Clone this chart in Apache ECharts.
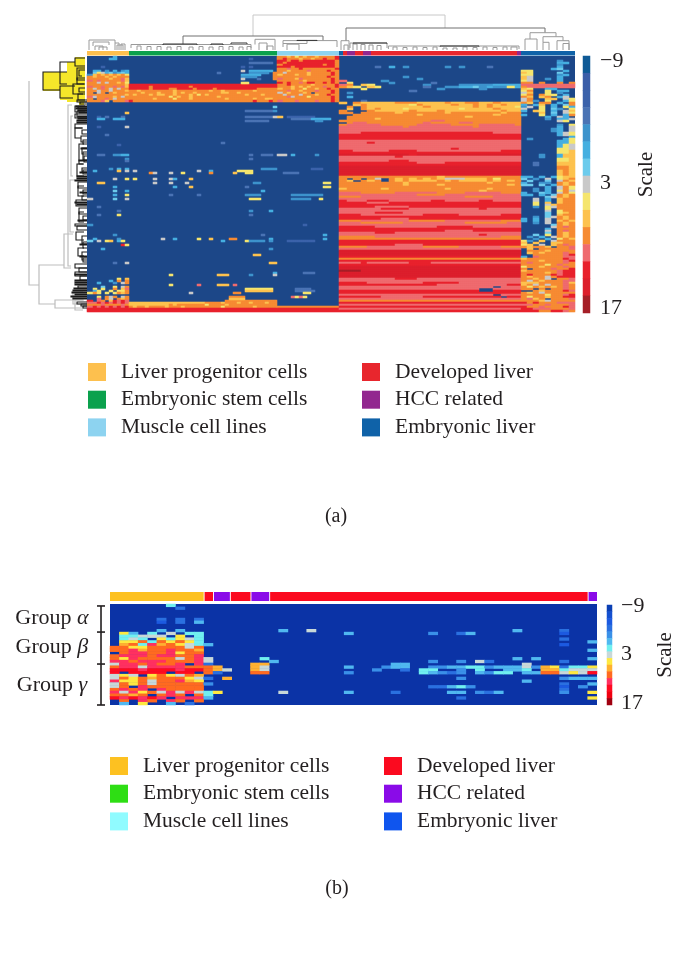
<!DOCTYPE html>
<html><head><meta charset="utf-8">
<style>html,body{margin:0;padding:0;background:#fff}#c{width:680px;height:960px}</style>
<script src="https://cdn.jsdelivr.net/npm/echarts@6/dist/echarts.min.js"></script>
</head><body><div id="c"></div>
<script>
const tickLabels = {0:'{t|\u22129}',7:'{m|3}',14:'{b|17}'};
const legendLeft = ['Liver progenitor cells','Embryonic stem cells','Muscle cell lines'];
const legendRight = ['Developed liver','HCC related','Embryonic liver'];
const colorsA = ['#fdc04e','#0ba14d','#8dd3f0','#e8262d','#92278f','#0f62a8'];
const colorsB = ['#fdc121','#2ede14','#90fbff','#fb0a1f','#8a0be8','#0f55ee'];
const paletteA = ['#0f5a96','#3b5ea8','#3b62aa','#4a73b4','#3d93cc','#45afe0','#6ccbec','#c9c9c9','#f5e56e','#fdc24f','#f68b33','#ef6b6f','#e8212c','#dc1f2c','#a51f27'];
const paletteB = ['#0a3fb4','#1450d0','#1c5ae0','#2a70e0','#3a90e8','#50b8f0','#70f0f0','#c8d8d8','#ffe840','#ffb030','#ff6a20','#ff3060','#ff0a20','#f00010','#a00010'];
const bgA = '#1c4788', bgB = '#0b33a6';

// Sample groups [first sample, last sample, group index]
const annotA = [[0,21,0],[21,95,1],[95,126,2],[126,128,5],[128,130,3],[130,134,4],[134,138,3],[138,142,4],[142,215,3],[215,217,4],[217,244,5]];
const annotB = [[0,10,0],[10.1,11,3],[11.1,12.8,4],[12.9,15,3],[15.1,17,4],[17.1,51,3],[51.1,52,4]];
const blocksA = [21,74,31,91,27];
const blockCharsA = [10,37,15,26,9];

// Panel (a), readings per row; '.' = lowest (background). Left blocks: [row, progenitor, muscle]
const leftA = [
[0,"......5","aa9a8a9aa9aaaac"],[1,".....55","acaaa9aa9aacaac"],[2,"","ccaccacccccccca"],[3,"","cacccccccccccca"],[4,"","accccccccccacca"],[5,"...2","cccacccccccccca"],
[6,"","aabaacaaaaaaaac"],[7,".55.4.5.45","aa9aaaabaaaacaa"],[8,".6875645655","a7aaaaa9aaaaaca"],[9,"49a9a9a9a8","9aaa9aa9aaaaaca"],[10,"a9aa9a9aaa","aaaaaaaaaaaacaa"],[11,"aaaaa9aab9","baaa9baaaaaaaca"],
[12,"babaaaaab9","aaaaaa9aaaaaaca"],[13,"aa7a7aa9a8","cacaabaccaacaca"],[14,"aaaaaaaaa9","aacaaaaa9aaaaac"],[15,"baabaabab9","aaa9a9a9aaabaac"],[16,"a7aba7a7aa","9aa9aa8aa9aacaa"],[17,"aa7aa7aaa9","aabaa9aaabaaaca"],
[18,"a.7a.a9aaa","7a9aaa9a.aaaaca"],[19,"aaaaaaaaa9","a7aaa7aaa9aacaa"],[20,"b7aaaa9a7a","aab7aaa8aaaaaca"],[21,"a.aaba7aaa","aaaaaaaaaaaaaca"],[22,"aaab9.aaab","baaabaaaabaaaca"],
[28,".........9",""],[30,"..2.3...3","9.2222222"],[31,"..55..555.","...3333355555"],[32,"",".........44"],[35,"..2......7",""],[39,"....3",""],[44,".......2",""],
[49,"..33..4455","77.5.....4"],[51,".........4",""],[52,".........3",""],[56,".....4.5.5","........222"],[57,".5.....9.7",""],[58,"",".3333"],[61,"......7..8",""],[63,"..99","...........88"],[65,"......5","...........88"],
[67,"......6..5",""],[69,"......5..8","...44444444"],[71,"7.....6..7","...44444..8"],[75,"..3",""],[77,".......3",""],[79,"..3....8",""],[84,"4","......2"],[89,"......4","...........5"],[91,".5.....4","...........5"],
[92,"6.7.89.58","..2222222"],[94,"........c8",""],[96,"...5",""],[103,"......3..7",""],[108,"","......333"],[111,".......8.9",""],[112,".....5.a.a",""],[113,"..5...4.7a",""],[115,"...6..8.7a",""],
[116,".8.8..a.9b","....3333"],[117,".58..8.88a","....33333"],[118,"8a8.8.8a9a","......88"],[120,"..8.a7a.7a","...b8b8"],[121,"..b.a7.a9a",""],[122,"c.ba.9cbcb",""],[123,"bbcbcbcbcb",""],[124,"aaabaaaaba",""],
[125,"bcbcbcbcbc","aaaaaaaaaaaaaaa"],[126,"cccccccccc","ccccccccccccccc"],[127,"cccccccccc","ccccccccccccccc"]];
// Stem-cell block: whole-row strings [row, cells] and sparse dashes [row, first cell, cells, level]
const bandE = [
[14,"ccccccccccccccccccccccccccccccccccccc"],[15,"cccccacccccccccaccccccccccccccccccccc"],[16,"cccccaccccaaccccaccccaccccccccccaaaaa"],[17,"aa9aaaaaaaa9aaaaaaaa9aa9aaaaaaa9aaaaa"],
[18,"aaa9aaa9aaa9a9aa9aaaaaa99aa9aaaaaaaaa"],[19,"a9aaa9a99aa9aaa9a8a9aaaaaaaaa9aaa9aaa"],[20,"aaaaaaaaaa8a9aa9aaaaaa9aaaaaaaaaaaaaa"],[21,"aaaaaa9aaaa8aaa9aaaaaaaa9aaaaaa9aa99a"],[22,"caaaaaaaaaaaaaaaaaaaaaaaaaaaaaacaaaca"],
[122,"........................aaaaaaaaaaaaa"],[123,"9999999999999999999aaaa9aaa9aa9aaa9aa"],[124,"9999999999a9aaaaaaa8aaaa9aaaaaaaaaaaa"],[125,"a9aa9aaaa9aaa9aaaaaaaaa8aaaaaaa9aaaaa"],[126,"ccccccccccccccccccccccccccccccccccccc"],[127,"ccccccccccccccccccccccccccccccccccccc"]];
const specksE = [
[1,30,1,2],[3,30,6,3],[5,28,1,2],[5,30,1,2],[7,28,1,7],[7,30,6,5],[8,22,1,3],[8,30,5,4],[8,36,1,10],[9,28,5,5],[9,36,1,10],[10,28,4,4],[10,36,1,10],[11,28,1,7],[11,32,1,3],[11,36,1,10],[13,28,2,8],
[25,36,1,6],[27,29,7,3],[27,36,1,4],[30,29,7,3],[30,36,1,7],[32,29,6,3],[43,23,1,3],[49,30,1,3],[49,33,3,3],[51,30,1,3],[56,33,4,4],
[57,1,1,7],[57,17,1,7],[57,20,1,5],[57,27,4,8],[58,5,1,10],[58,6,1,7],[58,10,1,7],[58,13,1,8],[58,20,1,10],[58,26,1,9],[58,29,2,8],
[61,1,1,8],[61,6,1,7],[61,10,1,7],[61,11,1,5],[61,15,1,9],[63,6,1,7],[63,10,1,7],[63,14,1,7],[63,31,2,4],[65,11,1,5],[65,15,1,9],[65,29,1,3],[67,33,1,5],[69,10,1,3],[69,17,1,3],[69,29,4,4],[71,30,3,8],
[77,30,1,4],[77,35,1,5],[79,30,1,3],[89,33,1,3],[91,8,1,7],[91,11,1,5],[91,17,1,8],[91,20,1,9],[91,25,2,10],[91,35,1,5],[92,23,1,5],[92,29,1,8],[92,30,4,4],[92,35,1,4],[96,35,1,4],[99,31,2,9],
[103,35,2,9],[108,36,1,5],[109,10,1,8],[109,22,3,9],[109,30,1,4],[109,36,1,7],[114,10,1,8],[114,17,1,11],[114,22,3,9],[114,26,1,11],[116,29,7,8],[117,29,7,9],[118,15,1,7],[118,26,2,10],[120,25,4,10],[121,25,4,9]];
// Developed and embryonic liver blocks, all 128 rows: developed|embryonic
const rowsD = [
"|","|","|......4","|......55","|......4",".....3.5.4.....4.4...3|......5","|.....56","|88.....5",
"|98....6","|88....45",".........4|97....5","...........4|97..4.5","b.....4|87....5",".8.....4.....3|aa.a..a.a","ba.98.......4....444445555|bbbbbbbbb","a98.98......3..44556454485|abbbbbbbb",
"...8..........4.....4|98..55..","..........3|8a..8.55",".4|79..8.4","|8a.a88.5",".5|a9.9a.57","|7a..99.78","...3|7a4.8..58","9.a99999aaa9999a99aa99a999|a9.aa.5.a",
"..9a9999998a9999a99a9a9a99|5.59.5.6a",".a.a99999999a999999a9a9998|47.8.5.85",".9.a9a9998999999989999a999|7..8.64.8","a...a99999a999a99999999a99|5.98.5.79","aa.aaaaa9aaaaaa9aaaaaaa9aa|...9.6.78","..aaaaaaaaa9aaaaaaaaaa9aaa|5..8.5.5a",".aaaaaaaaaaaaaaaaa9aaaaaaa|....5.75.",".aaaa9aaaaaaaaaaaaaaaaaaaa|....4.557",
"aaaaaaaaaaaaabbaaaaaaaaaaa|......78",".abbaaaaaaaabaaaabbaaaaaaa|.....","abbbbbaaaaabbbbbaaaabbbbba|......4.8","bbbbbbbbbabbbbbbbbbabbbbbb|......5.7","bbbbbbbbbbbbbbbbbbbbbbbbbb|.....45.7","bbbbbbbbbbbbbbbbbbbbbbbbbb|.....45.7","bbbcccccccccccccccccccbbbb|......578","cccccccccccccccccccccccccc|......578",
"cccccccccccccccccccccccccc|........5","cccccccccccccccccccccccccc|.4.....58","bbbbbbbbbbbbbbbbbbbbbbbbbb|......558","bbbbcbbbbbbbbbbbbbbbbbbbbb|......558","bbbbbbbbbbbbbbbbbbbbbbbbbb|......587","bbbbbbbbbbbbbbbbbbbbbbbbbb|......587","bbbbbbbbbbbbbbbbcbbbbbbbbb|......887","ccbbbbbccccbbbbbbbbbbbbccc|......889",
"cccccccccccccccccccccccccc|......889","ddddddddddcddddddddddddddd|...4..599","bbbbbbbbcbbbbbbbbbbbbbbbbb|...4..599","bbbbbbbbbbbbbbbbbbbbbbbbbb|......889","bbbbbbbcccbbbbbbbbbbbbbbbb|......889","cccccccccccbbbbccccccccccc|..3...999","cccccccccccccccccccccccccc|..3...999","dddddddddddddddddddddddddd|......aa9",
"dddddddddddddddddddddddddd|......aa9","dddddddddddddddddddddddddd|......9a9","dddddddddddddddddddddddddd|......9a9","dddddddddddddddddddddddddd|......9a9",
"aaaaaaaaaaaaaa9aaaaaaaaaaa|55.5.5899","a.a.a7.a9a9a9a9777999a8aaa|6.4.7.89a","a9.a9a.a9a9999a9a9999a9a9a|.6..6.7a9","aaaaaaaaa9aaaaaaaaaaa9aaaa|5..44.a9a",
"aaaaaaaaa9aaaa9aaaaaaaaa9a|66.6.5a9a","aaaaaaaaaaaaaaaaaaaaaaaaaa|....5.7a8","9aaaaa9aaaaaaaa9aaaaa9aaaa|..4.5.7a8","aaaaaaaaaaaaaaaaaaaa9aaaaa|..4.5.8a7",
"bbbaaaaabbbbbbaaaabbbbbaaa|5..65.7a8","bbbbbbbbbbbaaaabbbbbbbbbbb|55.5.6a9a","aaabbbbbbbbbbbbbbbaaaabbbb|....67a9a","bbbbbbbbbbbbbbbbbbbbbbbbbb|..7.5.9aa",
"cbbbcccbbbbbbccbbbbbccbbbb|..7.5.9aa","ccccbbbccccccccccccccccccc|..8.9.9aa","cccccccccccccccccccccccccc|..8.79aaa","cccccbbbbbcccccccccccccccc|..4.87aaa",
"bbbbbbccccbbbbbbbbbbcbbbbb|....8.aaa","bbbbbbbbbbbbbbbbbbbbbbbbbb|....7.8aa","bbbbbccccbbbbbbbbbbbbbbbbb|....6.89a","cccbbbbbbbbbcccccbbbbbbccc|....6.9aa",
"cccccccccccccccccccccccccc|..4.67a9a","ccccccbbbbcccccccccccccccc|5.5.7.a9a","aaabbbbbbbaaaaabbbbbbbbaaa|5.5.7.9a9","bbbaaaaaabbbbbbbbbaaaaaabb|..4.7.a9a","bbbbbbbbbbbbbbbbbbbbbbbbbb|.....6a9a","cccccbbbbbbbbbcccccbbbbbbb|.....7aba",
"cccccccccccccccccccccccccc|....5.aaa","cccccccccccccccbbbbccccccc|....7.aba","bbbbbcccbbbbbbbbbbbbbbbbbb|....6.a9a","bbbbbbbbbbbbbbbbbbbbcbbbbb|..6.8.a9a","aaaaabbbbbbbbbbbbbbbbbbaaa|.4.5.7a9a","aaaaaaaaaaaaaaaaaaaaaaaaaa|..4.5.8a9",
"cccccccccccccccccccccccccc|84.9.7aaa","cccccccccccccccccccccccccc|9.9..99aa","ccccccccbbbbcccccccccccccc|89.7.9aba","aaaabbbbbbbbaaaaabbbbbbaaa|a9aa9.aab","bbbbbbbbbbbbbbbbbbbbbbbbbb|.9.aaaaab",
"dddddddddddddddddddddddddd|.aaa9aaaa","dddddddddddddddddddddddddd|.9a9aaaba","dddddddddddddddddddddddddd|..aaaaabc","cccccccccccccccccccccccccc|5.baaaabb",
"aaaaaaaaaaaaaaaaaaaaaaaaaa|9aaaaaacb","cccccccccccccccccccccccccc|aaa9aaabc","bbbcbbbbbbcccbbbbbbbbbbbbb|abaaaaaba","cccccccccccccccccccccccccc|aaaa8abaa","dddddddddddddddddddddddddd|8aa9aaaba","dddddddddddddddddddddddddd|a.aaabaac","eeeddddddddddddddddddddddd|9aaaaabcc",
"dddddddddddddddddddddddddd|aaaa9abcc","dddddddddddddddddddddddddd|acaaacbcc","dddddddddddddddddddddddddd|a9aa7accc","bbbbbbbbcccbbbbbbbbbbbbbbb|aa9a7.aab","bbbbbbbbbbbbbbbbbbbbbbbbbb|a7a9aaabb","ccccbbbbbbbbcccccbbbbbbbbb|999aaaab9",
"ccccccccccccccbbbbbbbbbbcc|9a7a7aaba","bbbbbbbbbbbbbbbbbbbbbb.bbb|a8a9a9aba","bbbbbbbbbbbbbbbbbbbb..bbbb|aa.a.aaba","cccccccccccccccccccc..cccc|..a9aaacb","cccccccccccccccccccccccccc|a9a7aaaaa","bbbbbbbbbbbbbbbbbbbbbb.bbb|aaaa8aabc",
"ccccccbbbbbbccccccccccc.cc|a8aa9aacc","bbbbbbbbbbbbbbbbbbbbbbbbbb|ab9a.aaab","aaaaaaaaaaaaaaaaaaaaaaaaaa|aaa97aaaa","cccccccccccccccccccccccccc|cacaaabbb","bbbbbbbbbbbbbbbbbbbbbbbbbb|bbaabaaab",
"cccccccccccccccccccccccccc|caabaaacb","bbbbbbbbbbbbbbbbbbbbbbbbbb|ccbbbaaab","cccccccccccccccccccccccccc|cccaaccba","bbbbbbbbbbbbbbbbbbbbbbbbbb|aaabaaaab","cccccccccccccccccccccccccc|ccbbbaaab"];

// Panel (b): 36 rows, 52 samples; first block cells, then sparse [row, sample, level] readings
const rowsB = ["......6...",".......3..","","","",".....3.3.3",".....2.3.5","","",".....5.5..",
".85.6.7.66",".66777.8.6",".676.86876",".88a6a8a86",".9a6b9a876","aa88aaaa7a","aab9aabaa9",".abbaab8aa","abbbabbaab","a8baaaa7ab",
"bbabbbaaab","7bbabaab.b","abb7bbbbaa","cccbcccbcc","c.cccc.cc.","787.8a87a9","7a8a9aaa87","b88a7aab98","7a8a7aaaaa","7a.baaaaaa",
"abab.baaaa","b7b8a7b7b7","aa9a.aba.a","cbcbcb.bbb",".a.ba.ba.a",".5.8..5.3."];
const streaksB = [
[9,18,5],[9,21,7],[9,43,5],[9,48,3],[10,25,5],[10,34,4],[10,37,3],[10,38,5],[10,48,2],[12,48,3],[13,51,5],[14,48,2],[14,10,5],[16,51,5],
[19,43,5],[19,45,5],[19,51,5],[19,10,7],[19,16,6],[20,34,4],[20,37,4],[20,39,7],[20,40,3],[20,48,3],[20,10,7],[20,17,5],
[21,10,3],[21,15,9],[21,16,9],[21,30,5],[21,31,5],[21,44,7],
[22,10,10],[22,11,9],[22,15,9],[22,16,7],[22,25,5],[22,29,4],[22,30,5],[22,31,5],[22,34,4],[22,35,4],[22,36,5],[22,37,5],[22,38,6],[22,39,6],[22,40,4],[22,41,5],[22,42,5],[22,43,5],[22,44,7],[22,45,4],[22,46,9],[22,47,8],[22,48,3],[22,49,6],[22,50,6],[22,51,8],
[23,10,10],[23,11,9],[23,12,7],[23,15,9],[23,16,7],[23,28,4],[23,31,3],[23,33,6],[23,34,6],[23,37,4],[23,39,6],[23,42,5],[23,43,5],[23,44,6],[23,46,9],[23,47,9],[23,48,6],[23,49,7],[23,50,7],[23,51,7],
[24,10,10],[24,11,3],[24,15,10],[24,16,10],[24,25,4],[24,33,6],[24,34,5],[24,35,4],[24,36,3],[24,37,4],[24,39,5],[24,40,4],[24,41,6],[24,42,6],[24,44,5],[24,45,5],[24,46,10],[24,47,10],[24,48,7],[24,49,8],[24,50,7],[24,51,12],
[26,10,3],[26,12,9],[26,37,4],[26,48,4],[26,49,5],[26,50,5],[26,51,5],[27,44,5],[28,10,4],[28,48,3],[28,51,5],
[29,34,3],[29,35,3],[29,36,5],[29,37,6],[29,38,4],[29,48,2],[29,50,4],[30,48,3],
[31,10,6],[31,11,8],[31,18,7],[31,25,5],[31,30,3],[31,36,5],[31,37,5],[31,39,4],[31,40,3],[31,41,5],[31,48,4],[31,51,8],
[32,10,6],[33,10,5],[33,37,3],[33,51,8]];

// Column dendrogram of (a): [sampleA, sampleB, heightA, heightB, joinHeight]
const topGrey = [[83,179,14,22,35]];
const topDim = [[129.5,229,9,17.3,22],[48,118,5.5,9.4,14]];
const topMid = [[84,94,5.5,0,10.7],[98,125,6.5,3,9.4],[98,110,3,9.4,6.5],[100,106,0,0,5.8],
[1,14,0,7,10],[3,11,4,5,8],[4,8,0,0,4],[6,10,0,0,3],[15,18,0,0,5],[17,19,0,0,6],[14,16,0,0,7],[86,90,0,0,7],[90,93,0,0,4],
[22,82,2,2,5.5],[127,131,0,0,9.3],[128.5,130.5,0,0,5],[131.5,150,2,2,7],[150.7,216,1,1,4],
[221.5,234.5,11,13.3,17.3],[219,225,0,0,11],[228,238,7.7,9.3,13.3],[228,231,0,0,7.7],[235,241,0,0,9.3],[238,241,0,0,6.5],
[25,27,0,0,4],[30,32,0,0,3.5],[35,37,0,0,3.5],[40,42,0,0,3],[45,47,0,0,3.5],[51,53,0,0,3],[56,58,0,0,3.5],[61,63,0,0,3],[66,68,0,0,3.5],[71,73,0,0,3.5],[76,78,0,0,3],[80,82,0,0,3.5],
[153,155,0,0,3],[158,160,0,0,2.5],[163,165,0,0,3],[168,170,0,0,2.5],[173,175,0,0,3],[178,180,0,0,2],[183,185,0,0,2],[188,190,0,0,3],[193,195,0,0,2.5],[198,200,0,0,3],[203,205,0,0,2.5],[208,210,0,0,3],[212,215,0,0,3],
[133,135,0,0,6],[137,139,0,0,5.5],[141,143,0,0,5],[145,147,0,0,4.5]];
const topDark = [[38,55,5,5,6],[62,68,5,5,6],[72,80,6,6,7],[133,150,6.5,6.5,7],[176.5,196,3.5,3.5,4],[105,115,9,9,9.6]];

// Row dendrogram of (a): [rowA, rowB, heightA, heightB, joinHeight]
const highlightA = [[8,17.5,20,44],[4.5,23,2,20],[0.5,5.5,2,12],[17,22,20,27],[23,24.5,3,8],[3,8,12,20]];
const sideGrey = [[12.5,114.5,58,48,58],[104.5,124,23,32,48],[122,126,3,3,32],[89,106,14,16,23],[24.5,105,15,16,19],[118,124,4,7,14],[122,127,4,4,12],[62,88,12,13,17],[30,60,14,14,16]];
const sideDark = [[8,17,20,27,44],[3,14,12,20,27],[15,21,12,14,27],[1,5,2,2,12],[6,12,2,2,10],[7,10,2,5,8],[11,14,2,3,10],[14,19,2,4,14],[16,18,2,2,8],[19,22,2,2,9],
[25,28,2,2,12],[25.5,26.5,0,0,9],[27.5,30.5,0,0,10],[29,31,0,0,12],[30,30.5,0,0,9],[31,31.5,0,0,9],[32,32.5,0,0,10],[33,33.5,0,0,10],[34,36,0,4,12],[36,41,5,6,12],[37,39,0,0,5],[40,43,0,0,6],
[42,44,0,0,4],[44,54,3,3,8],[46,49,0,0,5],[48,52,0,0,4],[50,53,0,0,3],[54,60,4,3,10],[56,58,0,0,5],[57,59,0,0,4],[60,60.5,0,0,10],[61,61.5,0,0,10],[62,62.5,0,0,12],[63,66,0,0,9],[65,70,3,3,9],[67,69,0,0,4],
[70,72,0,0,5],[72,75,0,0,11],[73,73.5,0,0,12],[74,74.5,0,0,10],[76,79,0,0,8],[78,83,3,3,8],[80,82,0,0,4],[84,85,0,0,12],[85,87,0,0,10],[88,92,3,3,11],[90,94,0,0,5],[93,96,0,0,4],[96,100,3,3,9],[98,102,0,0,5],[101,103,0,0,4],
[104,106,0,0,12],[106,108,0,0,8],[108,110,0,0,12],[109,109.5,0,0,12],[110,112,0,0,7],[112,112.5,0,0,12],[113,113.5,0,0,12],[114,114.5,0,0,12],[115,116,0,0,9],[116,116.5,0,0,13],[117,117.5,0,0,14],
[118,118.5,0,0,15],[119,119.5,0,0,12],[120,120.5,0,0,16],[121,121.5,0,0,14],[123,124,0,0,10],[124,125,0,0,6],[125,126,0,0,4],[22,23,0,0,10],[23,24,0,0,7],
[25,25.5,0,0,11],[26,26.5,0,0,11],[27,27.5,0,0,9],[28,28.5,0,0,8],[46,46.5,0,0,6],[52,52.5,0,0,8],[58,58.5,0,0,7],[68,68.5,0,0,7],[82,82.5,0,0,9],[94,94.5,0,0,7],[100,100.5,0,0,7]];

// Panel (b) group brackets: boundary rows and the names between them
const groupRows = [0.7,10,21.4,36];
const groupNames = [['Group ','\u03b1'],['Group ','\u03b2'],['Group ','\u03b3']];
const groupLabelRows = [5,15.5,29];

const SERIF = '"Liberation Serif","DejaVu Serif",serif';
function pad(s,n){s=s||'';return (s+'.'.repeat(n)).slice(0,n);}
function lvl(ch){return ch==='.'?-1:parseInt(ch,16);}
const dataA=[];
function putBlock(i,start,w,chars,text){const t=pad(text,chars);for(let c=0;c<w;c++){const v=lvl(t[Math.floor(c*chars/w)]);if(v>=0)dataA.push([start+c,i,v]);}}
const [wP,wE,wM,wD,wJ]=blocksA,[nP,nE,nM,nD,nJ]=blockCharsA;
leftA.forEach(([i,p,m])=>{putBlock(i,0,wP,nP,p);putBlock(i,wP+wE,wM,nM,m);});
bandE.forEach(([i,e])=>putBlock(i,wP,wE,nE,e));
specksE.forEach(([i,k,n,l])=>{for(let c=0;c<n*2;c++)dataA.push([wP+k*2+c,i,l]);});
rowsD.forEach((r,i)=>{const [d,j]=r.split('|');putBlock(i,wP+wE+wM,wD,nD,d);putBlock(i,wP+wE+wM+wD,wJ,nJ,j);});
const gridB=rowsB.map(r=>pad(r,52).split('').map(lvl));
streaksB.forEach(([r,c,l])=>{gridB[r][c]=l;});
const dataB=[];gridB.forEach((r,i)=>r.forEach((v,c)=>{if(v>=0)dataB.push([c,i,v]);}));
const seq=n=>Array.from({length:n},(_,i)=>i);
const barData=paletteA.map((_,i)=>[0,i,i]);

const G={outerBoundsMode:'none'};
const grids=[
 {...G,left:87,top:56,width:488,height:256,show:true,backgroundColor:bgA,borderWidth:0}, //0 heat a
 {...G,left:87,top:14,width:488,height:36},       //1 top dendro
 {...G,left:87,top:51,width:488,height:4.5},      //2 annot a
 {...G,left:28,top:56,width:59,height:256},       //3 side dendro
 {...G,left:583,top:56,width:7,height:257},       //4 bar a
 {...G,left:110,top:604,width:487,height:101,show:true,backgroundColor:bgB,borderWidth:0}, //5 heat b
 {...G,left:110,top:592,width:487,height:9},      //6 annot b
 {...G,left:110,top:604,width:487,height:101},    //7 brackets
 {...G,left:607,top:605,width:5,height:100}       //8 bar b
];
const xAxes=[
 {type:'category',data:seq(244),gridIndex:0,show:false},
 {type:'value',min:0,max:244,gridIndex:1,show:false},
 {type:'value',min:0,max:244,gridIndex:2,show:false},
 {type:'value',min:0,max:59,inverse:true,gridIndex:3,show:false},
 {type:'category',data:[0],gridIndex:4,show:false},
 {type:'category',data:seq(52),gridIndex:5,show:false},
 {type:'value',min:0,max:52,gridIndex:6,show:false},
 {type:'value',min:0,max:52,gridIndex:7,show:false},
 {type:'category',data:[0],gridIndex:8,show:false}
];
function barAxis(grid,gap,nameGap,padding,shift){const base={fontFamily:SERIF,fontSize:22,color:'#231f20'};return {type:'category',data:seq(15),inverse:true,gridIndex:grid,position:'right',
 axisLine:{show:false},axisTick:{show:false},
 axisLabel:{interval:0,margin:gap,...base,formatter:(v,i)=>tickLabels[i]||'',rich:{t:{...base,padding:[0,0,shift,0]},m:{...base,padding:[0,0,shift/3,0]},b:{...base,padding:[shift,0,0,0]}}},
 name:'Scale',nameLocation:'middle',nameRotate:90,nameGap:nameGap,nameTextStyle:{fontFamily:SERIF,fontSize:21,color:'#231f20',padding:padding}};}
const yAxes=[
 {type:'category',data:seq(128),inverse:true,gridIndex:0,show:false},
 {type:'value',min:0,max:36,gridIndex:1,show:false},
 {type:'value',min:0,max:1,gridIndex:2,show:false},
 {type:'value',min:0,max:128,inverse:true,gridIndex:3,show:false},
 barAxis(4,10,46,[0,0,0,20],7),
 {type:'category',data:seq(36),inverse:true,gridIndex:5,show:false},
 {type:'value',min:0,max:1,gridIndex:6,show:false},
 {type:'value',min:0,max:36,inverse:true,gridIndex:7,show:false},
 barAxis(8,9,43,[0,0,0,0],4)
];
function heat(ax,data){return {type:'heatmap',xAxisIndex:ax,yAxisIndex:ax,data:data,progressive:0,animation:false,emphasis:{disabled:true},itemStyle:{borderWidth:0}};}
function links(ax,data,color,horizontal,width){return {type:'custom',xAxisIndex:ax,yAxisIndex:ax,data:data,silent:true,animation:false,clip:false,
 renderItem:(p,api)=>{const a=api.value(0),b=api.value(1),ha=api.value(2),hb=api.value(3),t=api.value(4);
  const q=horizontal?[[a,ha],[a,t],[b,t],[b,hb]]:[[ha,a],[t,a],[t,b],[hb,b]];
  return {type:'polyline',shape:{points:q.map(v=>api.coord(v))},style:{stroke:color,fill:'none',lineWidth:width||1}};}};}
function annot(ax,data,colors){return {type:'custom',xAxisIndex:ax,yAxisIndex:ax,data:data,silent:true,animation:false,
 renderItem:(p,api)=>{const s=api.coord([api.value(0),1]),e=api.coord([api.value(1),0]);
  return {type:'rect',shape:{x:s[0],y:s[1],width:e[0]-s[0],height:e[1]-s[1]},style:{fill:colors[api.value(2)]}};}};}
const highlight={type:'custom',xAxisIndex:3,yAxisIndex:3,data:highlightA,silent:true,animation:false,
 renderItem:(p,api)=>{const s=api.coord([api.value(3),api.value(0)]),e=api.coord([api.value(2),api.value(1)]);
  return {type:'rect',shape:{x:s[0],y:s[1],width:e[0]-s[0],height:e[1]-s[1]},style:{fill:'#f5e72a'}};}};
const bracket={type:'custom',xAxisIndex:7,yAxisIndex:7,data:groupRows.map(r=>[r]),silent:true,animation:false,clip:false,
 renderItem:(p,api)=>{const i=p.dataIndex,r=api.value(0),c=api.coord([-0.96,r]);const kids=[
  {type:'line',shape:{x1:c[0]-4,y1:c[1],x2:c[0]+4,y2:c[1]},style:{stroke:'#231f20',lineWidth:1.6}}];
  if(i<groupRows.length-1){const n=api.coord([-0.96,groupRows[i+1]]);
   kids.push({type:'line',shape:{x1:c[0],y1:c[1],x2:c[0],y2:n[1]},style:{stroke:'#231f20',lineWidth:1.6}});
   const m=api.coord([-6.2,groupLabelRows[i]]);
   kids.push({type:'text',style:{x:m[0],y:m[1],align:'center',verticalAlign:'middle',rich:{g:{fontFamily:SERIF,fontSize:22,fill:'#231f20'},i:{fontFamily:SERIF,fontSize:22,fontStyle:'italic',fill:'#231f20'}},text:'{g|'+groupNames[i][0]+'}{i|'+groupNames[i][1]+'}'}});}
  return {type:'group',children:kids};}};
const legendSeries=legendLeft.concat(legendRight).map(n=>({type:'scatter',name:n,data:[],xAxisIndex:1,yAxisIndex:1}));
function leg(names,colors,left,top){return {show:true,orient:'vertical',left:left,top:top,itemWidth:18,itemHeight:18,itemGap:5.7,selectedMode:false,icon:'rect',
 padding:0,textStyle:{fontFamily:SERIF,fontSize:21.5,lineHeight:18,color:'#231f20',padding:[0,0,0,10]},
 data:names.map((n,i)=>({name:n,icon:'rect',itemStyle:{color:colors[i],opacity:1}}))};}
const pieces=pal=>pal.map((c,i)=>({value:i,color:c}));

const option={
 animation:false,backgroundColor:'#fff',
 grid:grids,xAxis:xAxes,yAxis:yAxes,
 title:[
  {text:'(a)',left:331,top:502,textAlign:'center',textStyle:{fontFamily:SERIF,fontSize:20,fontWeight:'normal',color:'#231f20'}},
  {text:'(b)',left:332,top:874,textAlign:'center',textStyle:{fontFamily:SERIF,fontSize:20,fontWeight:'normal',color:'#231f20'}}
 ],
 legend:[
  leg(legendLeft,colorsA.slice(0,3),88,361),
  leg(legendRight,colorsA.slice(3),362,361),
  leg(legendLeft,colorsB.slice(0,3),110,755),
  leg(legendRight,colorsB.slice(3),384,755)
 ],
 visualMap:[
  {type:'piecewise',show:false,seriesIndex:[0,1],dimension:2,pieces:pieces(paletteA)},
  {type:'piecewise',show:false,seriesIndex:[2,3],dimension:2,pieces:pieces(paletteB)}
 ],
 series:[
  heat(0,dataA),heat(4,barData),heat(5,dataB),heat(8,barData),
  annot(2,annotA,colorsA),annot(6,annotB,colorsB),
  links(1,topGrey,'#c8c8c8',true),links(1,topDim,'#707070',true),links(1,topMid,'#9a9a9a',true),links(1,topDark,'#333',true),
  highlight,
  links(3,sideGrey,'#bdbdbd',false,1.2),links(3,sideDark,'#1a1a1a',false,1.1),
  bracket
 ].concat(legendSeries)
};
const chart=echarts.init(document.getElementById('c'),null,{renderer:'canvas'});
chart.setOption(option);
</script></body></html>
